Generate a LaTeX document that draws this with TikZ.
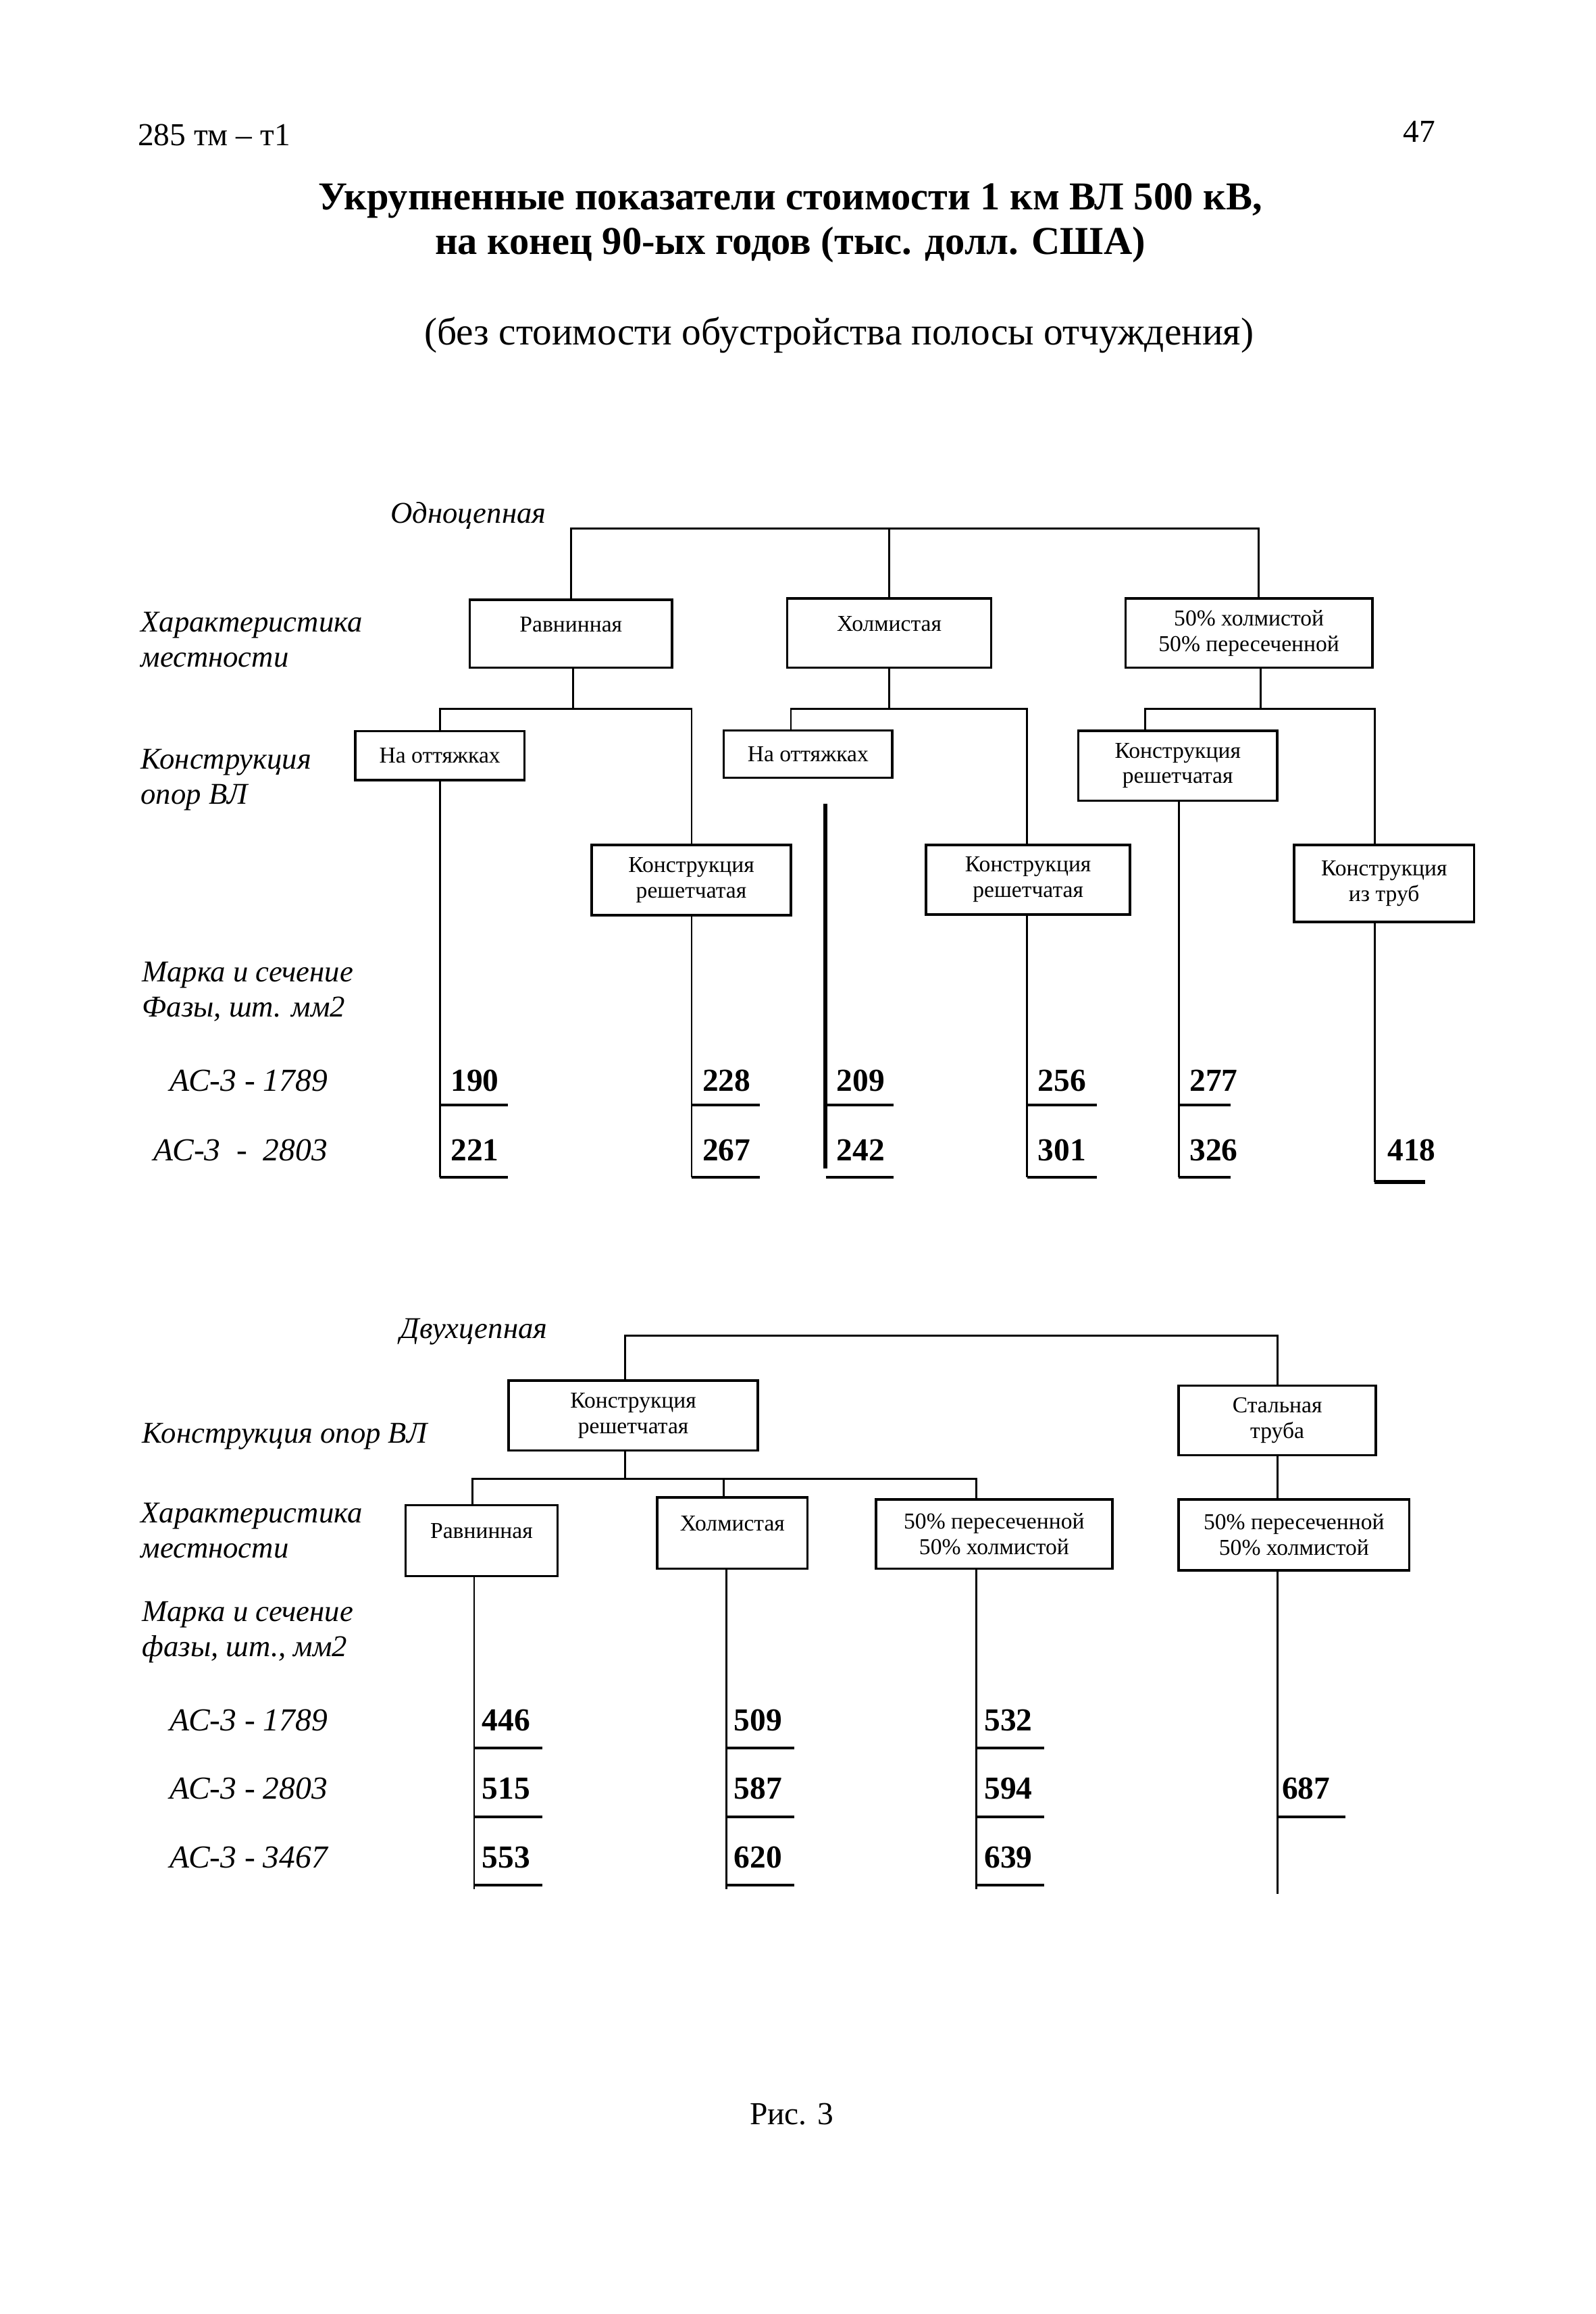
\documentclass[tikz,border=0pt]{standalone}
\usepackage{fontspec}
\setmainfont{Liberation Serif}
\usepackage{tikz}
\usetikzlibrary{positioning}
\usetikzlibrary{calc}

\def\opx{0.5532pt}

\begin{document}
\begin{tikzpicture}[
  x=0.019444cm, y=-0.019444cm,
  ln/.style={line width=0.7pt},
  thk/.style={line width=1.5pt},
  ul/.style={line width=1.0pt},
  box/.style 2 args={
    rectangle,
    draw,
    line width=0.9pt,
    align=center,
    inner sep=0pt,
    minimum width=#1*\opx,
    minimum height=#2*\opx,
    font=\fontsize{8.5}{9.6}\selectfont},
  up/.style={text height=6pt, text depth=7.6pt},
  lbl/.style={
    anchor=west,
    align=left,
    inner sep=0pt,
    font=\fontsize{11.3}{13.2}\selectfont\itshape},
  row/.style={
    anchor=east,
    inner sep=0pt,
    font=\fontsize{12}{13.2}\selectfont\itshape},
  val/.style={
    anchor=west,
    inner sep=0pt,
    font=\fontsize{12}{13.2}\selectfont\bfseries},
]

  \useasboundingbox (0,0) rectangle (1080,1566.5);

  \def\rowa{731.6}%
  \def\rowb{778.7}%
  \def\ula{748}%
  \def\ulb{797}%

  % Header
  \node[anchor=west,inner sep=0pt,font=\fontsize{12}{14}\selectfont] (code) 
      at (93,91.5) {285 тм – т1};
  \node[anchor=east,inner sep=0pt,font=\fontsize{12}{14}\selectfont] (page) 
      at (972,89) {47};
  \node[align=center,inner sep=0pt,font=\fontsize{14.8}{16.8}\selectfont\bfseries] (title) 
      at (535,151) {Укрупненные показатели стоимости 1 км ВЛ 500 кВ,\\на конец 90-ых годов (тыс. долл. США)};
  \node[inner sep=0pt,font=\fontsize{14.5}{16}\selectfont] (subtitle) 
      at (568,227) {(без стоимости обустройства полосы отчуждения)};

  % Single circuit: terrain
  \node[lbl] (single) at (264,349) {Одноцепная};
  \node[box={137}{46},up] (rav) at (386.5,429) {Равнинная};
  \node[box={138}{47},up] (holm) at (602,428.5) {Холмистая};
  \node[box={167}{47}] (mix) at (845.5,428.5) {50\% холмистой\\50\% пересеченной};
  \coordinate (bar1) at (852,357.8);
  \draw[ln] (rav.north) |- (bar1) -- (bar1 |- mix.north);
  \draw[ln] (holm.north) -- (holm.north |- bar1);

  % Single circuit: towers
  \node[box={114.5}{33}] (ot1) at (297.75,511.5) {На оттяжках};
  \node[box={135}{47.5}] (rs1) at (468,595.75) {Конструкция\\решетчатая};
  \node[box={114}{32}] (ot2) at (547,510.5) {На оттяжках};
  \node[box={138}{47}] (rs2) at (696,595.5) {Конструкция\\решетчатая};
  \node[box={134.6}{47.4}] (rs3) at (797.3,518.3) {Конструкция\\решетчатая};
  \node[box={122}{52}] (tr) at (937,598) {Конструкция\\из труб};

  \foreach \p/\pa/\la/\ra/\lc/\rc in {rav/388/298/468.2/ot1/rs1, 
      holm/602/535.4/695.4/ot2/rs2, mix/853.5/775.4/930.6/rs3/tr} {
    \draw[ln] (\pa,480 |- \p.south) -- (\pa,480);
    \draw[ln] (\la,480 |- \lc.north) -- (\la,480) -- (\ra,480) -- (\ra,480 |- \rc.north);
  }

  % Single circuit: costs
  \foreach \cx/\c/\va/\vb/\len in {297.8/ot1/190/221/46, 468.2/rs1/228/267/46, 
      695.4/rs2/256/301/47, 798/rs3/277/326/35} {
    \draw[ln] (\cx,\ulb |- \c.south) -- (\cx,\ulb);
    \node[val] (s\va) at (\cx+7,\rowa) {\va};
    \node[val] (s\vb) at (\cx+7,\rowb) {\vb};
    \draw[ul] (\cx,\ula) -- ++(\len,0);
    \draw[ul] (\cx,\ulb) -- ++(\len,0);
  }
  \coordinate (gap) at (558.8,544);
  \draw[thk] (gap) -- (558.8,791);
  \node[val] (s209) at (566,\rowa) {209};
  \node[val] (s242) at (566,\rowb) {242};
  \draw[ul] (559,\ula) -- ++(46,0);
  \draw[ul] (559,\ulb) -- ++(46,0);
  \draw[ln] (930.6,800 |- tr.south) -- (930.6,800);
  \node[val] (s418) at (939,\rowb) {418};
  \draw[thk] (930.6,800) -- ++(34,0);

  \node[lbl] (terr1) at (95,433) {Характеристика\\местности};
  \node[lbl] (tow1) at (95,528) {Конструкция\\опор ВЛ};
  \node[lbl] (wire1) at (96,671.4) {Марка и сечение\\Фазы, шт. мм2};
  \node[row] (ra1) at (222,\rowa) {АС-3 - 1789};
  \node[row] (rb1) at (222,\rowb) {АС-3 \ - \ 2803};

  % Double circuit: towers
  \def\rowa{1164.5}%
  \def\rowb{1210.6}%
  \def\rowc{1257.4}%
  \node[lbl] (double) at (270.6,901.5) {Двухцепная};
  \node[box={168.6}{47.4}] (kr) at (428.7,958.3) {Конструкция\\решетчатая};
  \node[box={133.4}{47}] (st) at (864.7,961.5) {Стальная\\труба};
  \coordinate (bar2) at (423,904);
  \draw[ln] (bar2 |- kr.north) -- (bar2) -| (st.north);

  % Double circuit: terrain
  \node[box={103}{48},up] (b1) at (326,1043) {Равнинная};
  \node[box={101.7}{48.4},up] (b2) at (495.85,1037.8) {Холмистая};
  \node[box={160}{47}] (b3) at (673,1038.5) {50\% пересеченной\\50\% холмистой};
  \node[box={156}{48}] (b4) at (876,1039) {50\% пересеченной\\50\% холмистой};
  \draw[ln] (bar2 |- kr.south) -- (423,1001);
  \draw[ln] (320,1001 |- b1.north) -- (320,1001) -- (661,1001) -- (661,1001 |- b3.north);
  \draw[ln] (490,1001) -- (490,1001 |- b2.north);
  \draw[ln] (st.south) -- (st.south |- b4.north);

  % Double circuit: costs
  \foreach \cx/\c/\va/\vb/\vc in {321/b1/446/515/553, 491.6/b2/509/587/620, 661/b3/532/594/639} {
    \draw[ln] (\cx,1279 |- \c.south) -- (\cx,1279);
    \node[val] (d\va) at (\cx+5,\rowa) {\va};
    \node[val] (d\vb) at (\cx+5,\rowb) {\vb};
    \node[val] (d\vc) at (\cx+5,\rowc) {\vc};
    \draw[ul] (\cx,1183.5) -- ++(46,0);
    \draw[ul] (\cx,1230) -- ++(46,0);
    \draw[ul] (\cx,1276) -- ++(46,0);
  }
  \draw[ln] (b4.south -| st.south) -- (864.7,1282);
  \node[val] (d687) at (867.5,\rowb) {687};
  \draw[ul] (864.7,1230) -- ++(46,0);

  \node[lbl] (tow2) at (96,972.4) {Конструкция опор ВЛ};
  \node[lbl] (terr2) at (95,1036) {Характеристика\\местности};
  \node[lbl] (wire2) at (96,1105) {Марка и сечение\\фазы, шт., мм2};
  \node[row] (ra2) at (222,\rowa) {АС-3 - 1789};
  \node[row] (rb2) at (222,\rowb) {АС-3 - 2803};
  \node[row] (rc2) at (222,\rowc) {АС-3 - 3467};

  \node[inner sep=0pt,font=\fontsize{12}{14}\selectfont] (fig) at (536,1431) {Рис. 3};

\end{tikzpicture}
\end{document}
